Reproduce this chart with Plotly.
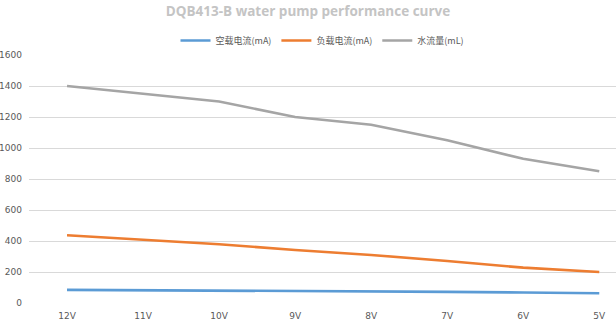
import plotly.graph_objects as go

categories = ["12V", "11V", "10V", "9V", "8V", "7V", "6V", "5V"]
idle_current = [85, 83, 80, 78, 75, 72, 68, 63]
load_current = [437, 406, 379, 342, 310, 271, 228, 200]
water_flow = [1400, 1350, 1300, 1200, 1150, 1050, 930, 850]
y_ticks = [0, 200, 400, 600, 800, 1000, 1200, 1400, 1600]

series = [
    ("空载电流(mA)", idle_current, "#5b9bd5"),
    ("负载电流(mA)", load_current, "#ed7d31"),
    ("水流量(mL)", water_flow, "#a5a5a5"),
]

fig = go.Figure()
for name, vals, color in series:
    fig.add_trace(go.Scatter(
        x=list(range(len(categories))), y=vals, name=name, mode="lines",
        line=dict(color=color, width=2.6),
    ))

font_family = "Noto Sans CJK SC, DejaVu Sans, sans-serif"
fig.update_layout(
    width=616, height=326,
    margin=dict(l=29, r=0, t=55, b=23),
    paper_bgcolor="white", plot_bgcolor="white",
    title=dict(text="<b>DQB413-B water pump performance curve</b>", x=0.5, xanchor="center",
               y=0.965, yanchor="middle",
               font=dict(family="Open Sans, sans-serif", size=13.5, color="#c4c4c4")),
    legend=dict(orientation="h", x=0.5, xanchor="center", y=1.0, yanchor="bottom",
                yref="paper", font=dict(family=font_family, size=9, color="#595959"),
                tracegroupgap=0),
    xaxis=dict(tickmode="array", tickvals=list(range(len(categories))), ticktext=categories,
               range=[-0.5, 7.22], showgrid=False, zeroline=False, showline=False,
               ticks="", ticklabelstandoff=6,
               tickfont=dict(family="DejaVu Sans, sans-serif", size=9, color="#595959")),
    yaxis=dict(range=[0, 1600], tickmode="array", tickvals=y_ticks, showgrid=True,
               gridcolor="#d9d9d9", gridwidth=1, zeroline=False, showline=False, ticks="",
               tickfont=dict(family="DejaVu Sans, sans-serif", size=9, color="#595959"),
               ticklabelstandoff=6),
    showlegend=True,
)
fig.write_html("out.html")
